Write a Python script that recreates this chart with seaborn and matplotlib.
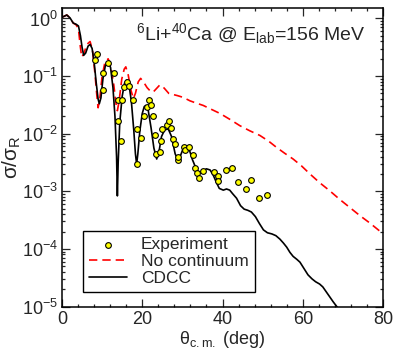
import numpy as np
import pandas as pd
import matplotlib
matplotlib.use("Agg")
import matplotlib.pyplot as plt
import matplotlib.ticker as mticker
import seaborn as sns

exp_theta = [8.2, 8.8, 10.3, 10.3, 11.5, 12.9, 13.9, 14.0, 14.7, 14.9, 15.5, 16.3, 16.7,
             17.6, 18.6, 18.8, 19.8, 20.4, 21.1, 21.6, 22.2, 22.7, 23.1, 23.4, 24.4, 24.6,
             25.0, 26.1, 26.7, 27.1, 27.6, 28.1, 28.8, 29.0, 30.4, 30.6, 31.6, 32.7, 33.1,
             33.7, 34.2, 35.2, 37.9, 38.9, 38.9, 40.8, 42.4, 43.9, 45.9, 47.1, 49.1, 51.0]
exp_log10 = [-0.72, -0.61, -0.95, -1.24, -0.78, -0.95, -1.41, -1.78, -2.12, -1.41, -1.19,
             -1.10, -1.18, -1.42, -1.92, -2.53, -2.07, -1.70, -1.54, -1.41, -1.51, -1.70,
             -2.02, -2.36, -2.31, -2.12, -1.92, -1.85, -1.78, -1.905, -2.09, -2.18, -2.45,
             -2.40, -2.225, -2.29, -2.225, -2.365, -2.60, -2.68, -2.77, -2.64, -2.67, -2.73,
             -2.82, -2.63, -2.59, -2.84, -2.96, -2.80, -3.12, -3.06]

cdcc_theta = [0.0, 0.6, 1.2, 2.0, 2.8, 3.5, 4.1, 4.6, 5.0, 5.4, 5.9, 6.5, 7.0, 7.5, 8.0, 8.5,
              9.0, 9.3, 9.7, 10.2, 10.8, 11.5, 12.1, 12.7, 13.2, 13.6, 13.8, 14.0, 14.4, 15.0,
              15.6, 16.1, 16.7, 17.3, 17.9, 18.3, 18.6, 18.9, 19.4, 20.0, 20.5, 20.9, 21.5,
              22.2, 22.9, 23.6, 24.2, 24.8, 25.6, 26.5, 27.3, 28.2, 29.0, 29.7, 30.4, 30.9,
              31.6, 32.5, 33.5, 34.3, 35.2, 36.0, 36.9, 37.7, 38.5, 39.2, 40.2, 41.0, 41.8,
              42.5, 43.5, 44.5, 45.4, 46.3, 47.2, 48.2, 49.2, 50.2, 51.2, 52.3, 53.3, 54.3,
              55.2, 56.0, 56.8, 57.6, 58.5, 59.3, 60.3, 61.3, 62.3, 63.2, 64.2, 65.0, 65.9,
              66.8, 67.6, 68.8, 69.5]
cdcc_log10 = [0.02, 0.04, 0.06, 0.01, -0.08, -0.10, -0.13, -0.30, -0.50, -0.64, -0.60, -0.48,
              -0.45, -0.52, -0.75, -1.10, -1.40, -1.48, -1.38, -1.05, -0.82, -0.75, -0.85,
              -1.20, -1.70, -2.40, -3.08, -2.50, -1.80, -1.35, -1.12, -1.07, -1.15, -1.45,
              -1.95, -2.35, -2.53, -2.35, -1.95, -1.65, -1.53, -1.51, -1.60, -1.90, -2.25,
              -2.44, -2.30, -2.05, -1.93, -1.92, -2.05, -2.35, -2.47, -2.35, -2.22, -2.21,
              -2.25, -2.45, -2.62, -2.68, -2.64, -2.61, -2.63, -2.72, -2.85, -2.95, -2.98,
              -2.96, -2.98, -3.04, -3.12, -3.25, -3.31, -3.33, -3.36, -3.44, -3.56, -3.67,
              -3.72, -3.74, -3.77, -3.83, -3.90, -3.97, -4.06, -4.13, -4.18, -4.23, -4.34,
              -4.45, -4.52, -4.57, -4.61, -4.66, -4.75, -4.84, -4.92, -5.03, -5.10]

nocont_theta = [0.0, 0.6, 1.2, 2.0, 2.8, 3.5, 4.1, 4.5, 4.9, 5.4, 6.2, 7.0, 7.6, 8.2, 8.7,
                9.0, 9.4, 10.0, 10.7, 11.5, 12.2, 12.9, 13.5, 13.8, 14.2, 14.9, 15.5, 15.9,
                16.5, 17.2, 17.8, 18.3, 19.0, 19.6, 20.3, 21.2, 22.0, 22.7, 23.5, 24.3, 24.8,
                25.6, 26.6, 27.7, 28.8, 30.2, 31.9, 33.5, 35.2, 37.3, 39.4, 41.8, 44.3, 46.8,
                49.3, 51.5, 53.5, 55.5, 57.6, 59.7, 61.8, 64.2, 66.7, 69.2, 71.7, 74.2, 76.7,
                79.0, 80.0]
nocont_log10 = [0.02, 0.04, 0.06, 0.01, -0.08, -0.11, -0.18, -0.45, -0.67, -0.62, -0.45,
                -0.40, -0.55, -0.95, -1.35, -1.55, -1.40, -1.00, -0.76, -0.70, -0.82, -1.15,
                -1.50, -1.60, -1.45, -1.05, -0.88, -0.84, -0.98, -1.25, -1.39, -1.30, -1.10,
                -1.04, -1.10, -1.20, -1.26, -1.28, -1.22, -1.16, -1.16, -1.22, -1.30, -1.32,
                -1.34, -1.37, -1.43, -1.47, -1.51, -1.58, -1.65, -1.75, -1.86, -1.95, -2.03,
                -2.13, -2.24, -2.34, -2.44, -2.56, -2.70, -2.85, -2.99, -3.14, -3.28, -3.42,
                -3.55, -3.68, -3.73]

x_ticks = [0, 20, 40, 60, 80]

# ---- build tables ----
df_exp = pd.DataFrame({"theta": exp_theta, "ratio": 10.0 ** np.array(exp_log10)})
df_cdcc = pd.DataFrame({"theta": cdcc_theta, "ratio": 10.0 ** np.array(cdcc_log10)})
df_nc = pd.DataFrame({"theta": nocont_theta, "ratio": 10.0 ** np.array(nocont_log10)})

sns.set_style("ticks")
plt.rcParams["font.family"] = ["Liberation Sans", "DejaVu Sans"]
plt.rcParams["mathtext.fontset"] = "custom"
plt.rcParams["mathtext.rm"] = "Liberation Sans"
plt.rcParams["mathtext.it"] = "Liberation Sans"
plt.rcParams["mathtext.default"] = "regular"

fig = plt.figure(figsize=(3.95, 3.49), dpi=100)
ax = fig.add_axes([62 / 395, 1 - 306.5 / 349, 321 / 395, 299 / 349])

sns.lineplot(data=df_nc, x="theta", y="ratio", ax=ax, color="#ff0000", lw=1.2,
             estimator=None, sort=False, label="No continuum", dashes=False)
ax.lines[-1].set_dashes([5, 3])
sns.lineplot(data=df_cdcc, x="theta", y="ratio", ax=ax, color="black", lw=1.2,
             estimator=None, sort=False, label="CDCC")
sns.scatterplot(data=df_exp, x="theta", y="ratio", ax=ax, color="#ffff00",
                edgecolor="black", linewidth=0.8, s=17, zorder=5, label="Experiment")

ax.set_yscale("log")
ax.set_xlim(0, 80)
ax.set_ylim(1e-5, 1.55)
ax.set_xticks(x_ticks)
ax.xaxis.set_minor_locator(mticker.MultipleLocator(4))
ax.yaxis.set_major_locator(mticker.LogLocator(base=10, numticks=10))
ax.yaxis.set_minor_locator(mticker.LogLocator(base=10, subs=np.arange(2, 10), numticks=20))
ax.yaxis.set_minor_formatter(mticker.NullFormatter())

ax.tick_params(which="both", direction="in", top=True, right=True, width=0.9)
ax.tick_params(which="major", length=5.5, labelsize=13, pad=3)
ax.tick_params(which="minor", length=2.5)
for s in ax.spines.values():
    s.set_linewidth(1.1)
    s.set_color("black")

ax.set_xlabel(r"$\theta_{c.m.}$ (deg)", fontsize=13, labelpad=1)
ax.set_ylabel(r"$\sigma/\sigma_R$", fontsize=15)
ax.yaxis.set_label_coords(-0.122, 0.5)

ax.text(0.944, 0.955, r"$^{6}$Li+$^{40}$Ca @ E$_{lab}$=156 MeV", transform=ax.transAxes,
        ha="right", va="top", fontsize=14)

handles, labels = ax.get_legend_handles_labels()
order = [labels.index("Experiment"), labels.index("No continuum"), labels.index("CDCC")]
leg = ax.legend([handles[i] for i in order], [labels[i] for i in order],
                loc="lower left", bbox_to_anchor=(0.065, 0.048), fontsize=12.5,
                frameon=True, fancybox=False, framealpha=1, edgecolor="black",
                handlelength=2.2, labelspacing=0.1, borderpad=0.35, handletextpad=0.8,
                borderaxespad=0)
leg.get_frame().set_linewidth(1.0)

fig.savefig("out.png", dpi=100)
